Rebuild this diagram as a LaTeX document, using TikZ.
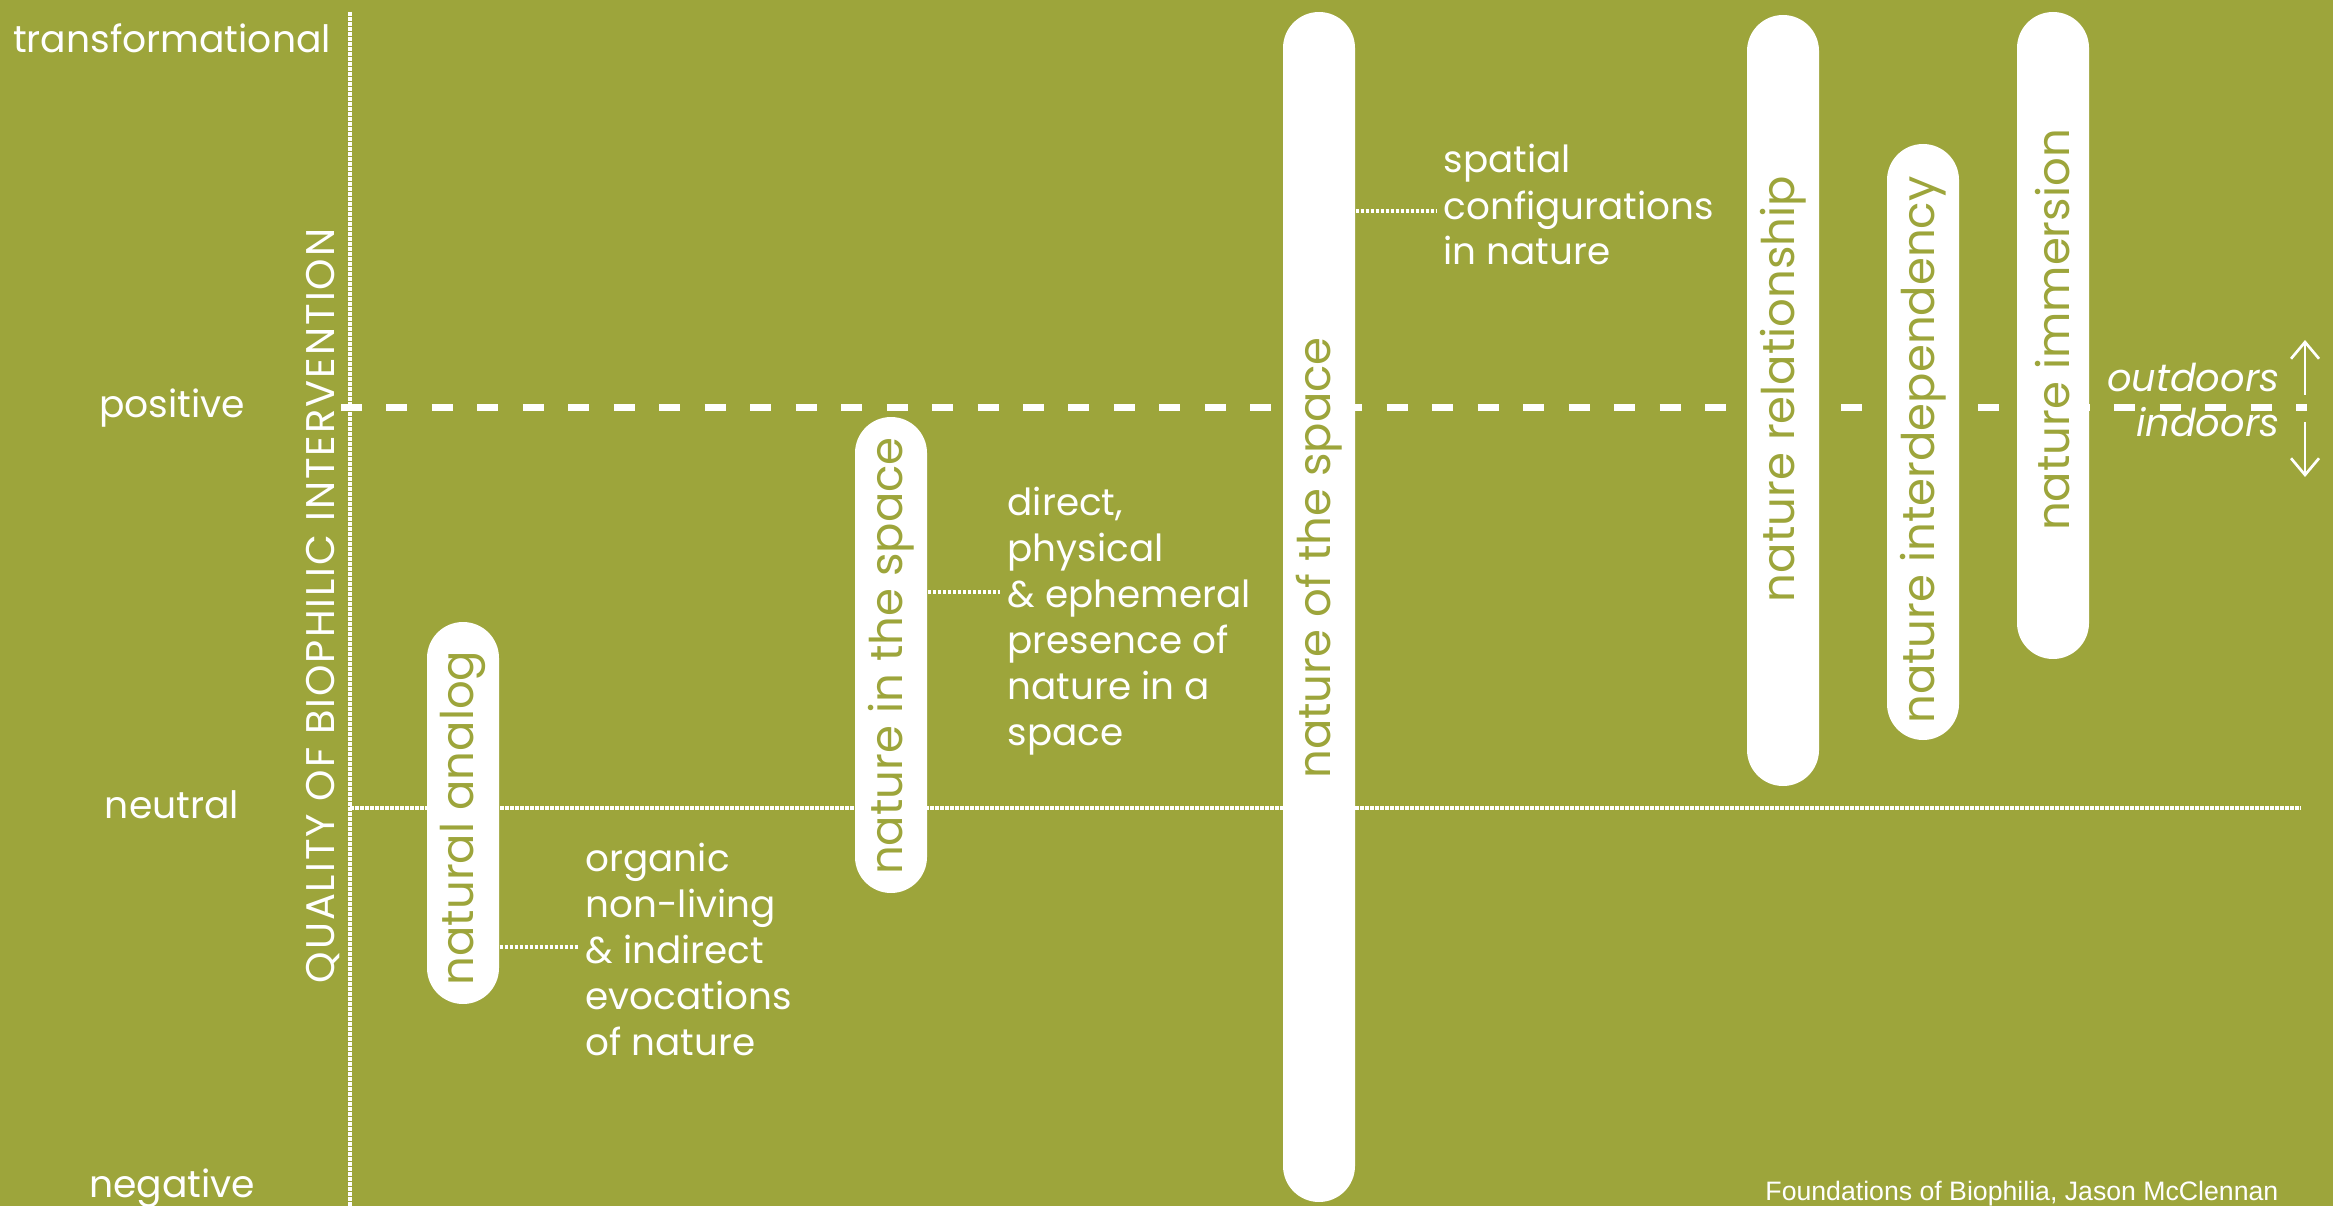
\documentclass[tikz,border=0pt]{standalone}
\usepackage{fontspec}
\setmainfont{Poppins}
\newfontfamily\credfont{Liberation Sans}
\newfontfamily\spacedfont[LetterSpace=5]{Poppins}
\usetikzlibrary{arrows.meta}
\definecolor{bggreen}{RGB}{157,165,59}
\begin{document}
\begin{tikzpicture}[x=0.3pt,y=-0.3pt,
  lbl/.style={text=white, inner sep=0pt, anchor=base, font=\fontsize{11.3}{13}\selectfont},
  desc/.style={text=white, inner sep=0pt, align=left, anchor=base west, font=\fontsize{11.2}{13.8}\selectfont},
  pill/.style={fill=white, inner sep=0pt, minimum width=21.6pt, rounded corners=10.8pt},
  pilltext/.style={text=bggreen, inner sep=0pt, rotate=90, font=\fontsize{13.5}{15}\selectfont},
  dotline/.style={draw=white, line width=1.4pt, dash pattern=on 1.1pt off 0.4pt},
  conn/.style={draw=white, line width=1.1pt, dash pattern=on 1.1pt off 0.4pt, shorten >=2pt},
  dashline/.style={draw=white, line width=2.1pt, dash pattern=on 6.3pt off 7.34pt},
  arr/.style={draw=white, line width=0.8pt, -{Straight Barb[length=5pt,width=8.4pt]}}
]
\fill[bggreen] (0,0) rectangle (2333,1206);
\useasboundingbox (0,0) rectangle (2333,1206);

% axis labels
\node[lbl] (ltrans) at (172,53) {transformational};
\node[lbl] (lpos) at (172,418) {positive};
\node[lbl] (lneu) at (172,818) {neutral};
\node[lbl] (lneg) at (172,1197) {negative};
\node[text=white, inner sep=0pt, rotate=90, anchor=base, font=\spacedfont\fontsize{12}{14}\selectfont] (qual) at (334,606) {QUALITY OF BIOPHILIC INTERVENTION};

% guide lines
\coordinate (dashL) at (341,408);
\coordinate (dashR) at (2307,408);
\coordinate (neuL) at (350,808);
\coordinate (neuR) at (2300,808);
\coordinate (axT) at (350,12);
\coordinate (axB) at (350,1206);
\draw[dashline] (dashL) -- (dashR);
\draw[dotline] (neuL) -- (neuR);
\draw[dotline] (axT) -- (axB);

% pills
\node[pill, minimum height=114.6pt] (analog) at (463,813) {};
\node[pill, minimum height=142.8pt] (inspace) at (891,655) {};
\node[pill, minimum height=357pt] (ofspace) at (1319,607) {};
\node[pill, minimum height=231.3pt] (relat) at (1783,400.5) {};
\node[pill, minimum height=178.8pt] (interd) at (1923,442) {};
\node[pill, minimum height=194.1pt] (immer) at (2053,335.5) {};

\node[pilltext] (analogt) at (463,818) {natural analog};
\node[pilltext] (inspacet) at (891,656) {nature in the space};
\node[pilltext] (ofspacet) at (1319,558) {nature of the space};
\node[pilltext] (relatt) at (1783,389) {nature relationship};
\node[pilltext] (interdt) at (1923,450) {nature interdependency};
\node[pilltext] (immert) at (2053,330) {nature immersion};

% descriptions (anchor = baseline of last line)
\node[desc] (analogd) at (585,1055) {organic\\non-living\\\& indirect\\evocations\\of nature};
\node[desc] (inspaced) at (1007,745) {direct,\\physical\\\& ephemeral\\presence of\\nature in a\\space};
\node[desc] (ofspaced) at (1443,265) {spatial\\configurations\\in nature};

\coordinate (cya) at (0,947);
\coordinate (cyb) at (0,592);
\coordinate (cyc) at (0,211);
\draw[conn] (analog.east |- cya) -- (analogd.west |- cya);
\draw[conn] (inspace.east |- cyb) -- (inspaced.west |- cyb);
\draw[conn] (ofspace.east |- cyc) -- (ofspaced.west |- cyc);

% outdoors / indoors
\node[text=white, inner sep=0pt, anchor=base east, font=\fontsize{11.5}{13}\selectfont\itshape] (outd) at (2280,392) {outdoors};
\node[text=white, inner sep=0pt, anchor=base east, font=\fontsize{11.5}{13}\selectfont\itshape] (ind) at (2280,437) {indoors};
\coordinate (upA) at (2305,395);
\coordinate (upB) at (2305,340);
\coordinate (dnA) at (2305,422);
\coordinate (dnB) at (2305,477);
\draw[arr] (upA) -- (upB);
\draw[arr] (dnA) -- (dnB);

% credit
\node[text=white, inner sep=0pt, anchor=base east, font=\credfont\fontsize{8}{9.6}\selectfont] (cred) at (2279,1200) {Foundations of Biophilia, Jason McClennan};
\end{tikzpicture}
\end{document}
